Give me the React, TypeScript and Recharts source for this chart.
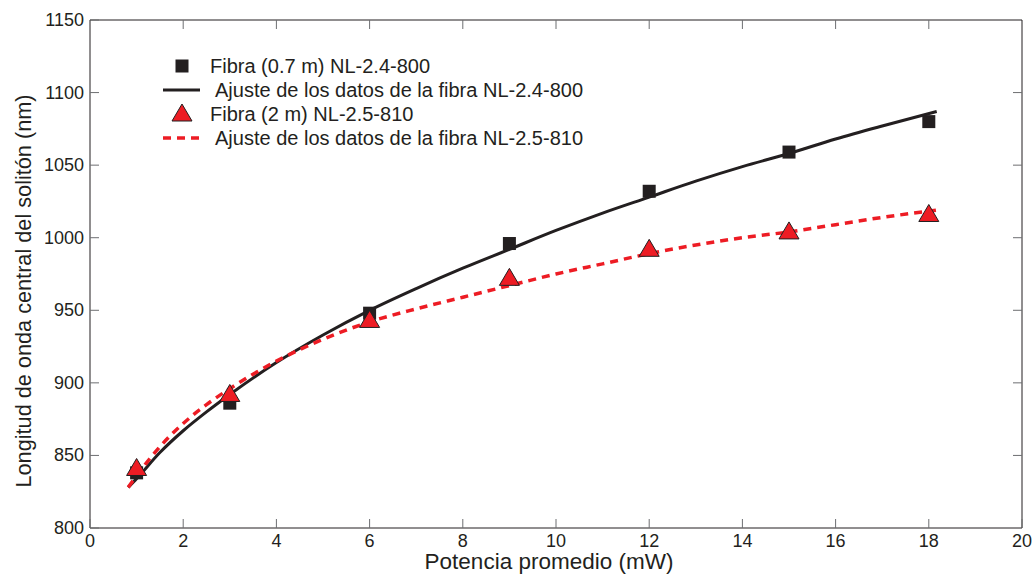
import React from "react";
import { ComposedChart, Line, Scatter, XAxis, YAxis } from "recharts";

// measured points
const fibra24 = [
	{ p: 1, nm: 838 },
	{ p: 3, nm: 886 },
	{ p: 6, nm: 948 },
	{ p: 9, nm: 996 },
	{ p: 12, nm: 1032 },
	{ p: 15, nm: 1059 },
	{ p: 18, nm: 1080 },
];

const fibra25 = [
	{ p: 1, nm: 841 },
	{ p: 3, nm: 892 },
	{ p: 6, nm: 943 },
	{ p: 9, nm: 972 },
	{ p: 12, nm: 992 },
	{ p: 15, nm: 1004 },
	{ p: 18, nm: 1016 },
];

// fitted curves, sampled
const ajuste24 = [
	{ p: 0.82, nm: 828 },
	{ p: 1, nm: 834 },
	{ p: 1.5, nm: 852 },
	{ p: 2, nm: 867 },
	{ p: 2.5, nm: 880 },
	{ p: 3, nm: 892 },
	{ p: 4, nm: 914 },
	{ p: 5, nm: 933 },
	{ p: 6, nm: 950 },
	{ p: 7, nm: 965 },
	{ p: 8, nm: 979 },
	{ p: 9, nm: 992 },
	{ p: 10, nm: 1005 },
	{ p: 11, nm: 1017 },
	{ p: 12, nm: 1028 },
	{ p: 13, nm: 1039 },
	{ p: 14, nm: 1049 },
	{ p: 15, nm: 1058 },
	{ p: 16, nm: 1068 },
	{ p: 17, nm: 1077 },
	{ p: 18.17, nm: 1087 },
];

const ajuste25 = [
	{ p: 0.82, nm: 828 },
	{ p: 1, nm: 836 },
	{ p: 1.5, nm: 856 },
	{ p: 2, nm: 872 },
	{ p: 2.5, nm: 885 },
	{ p: 3, nm: 896 },
	{ p: 4, nm: 915 },
	{ p: 5, nm: 930 },
	{ p: 6, nm: 942 },
	{ p: 7, nm: 951 },
	{ p: 8, nm: 959 },
	{ p: 9, nm: 967 },
	{ p: 10, nm: 975 },
	{ p: 11, nm: 982 },
	{ p: 12, nm: 989 },
	{ p: 13, nm: 995 },
	{ p: 14, nm: 1000 },
	{ p: 15, nm: 1004 },
	{ p: 16, nm: 1009 },
	{ p: 17, nm: 1014 },
	{ p: 18.17, nm: 1019 },
];

const xTicks = [0, 2, 4, 6, 8, 10, 12, 14, 16, 18, 20];
const yTicks = [800, 850, 900, 950, 1000, 1050, 1100, 1150];

const legendLabels = [
	"Fibra (0.7 m) NL-2.4-800",
	"Ajuste de los datos de la fibra NL-2.4-800",
	"Fibra (2 m) NL-2.5-810",
	"Ajuste de los datos de la fibra NL-2.5-810",
];

const FONT = "'Liberation Sans', Arial, Helvetica, sans-serif";
const INK = "#231f20";
const RED = "#ed1c24";
const TICK_GREY = "#6d6e71";
const TICK_LEN = 9;

const SquareMark = ({ cx, cy }: any) => (
	<rect x={cx - 6.5} y={cy - 6.5} width={13} height={13} fill={INK} />
);

const TriangleMark = ({ cx, cy }: any) => (
	<polygon
		points={`${cx},${cy - 10} ${cx - 10},${cy + 7} ${cx + 10},${cy + 7}`}
		fill={RED}
		stroke={INK}
		strokeWidth={1}
	/>
);

// inward tick marks on every side of the box
const BottomTick = ({ x, y, payload }: any) => (
	<g>
		<line x1={x} y1={y} x2={x} y2={y - TICK_LEN} stroke={TICK_GREY} />
		<text
			x={x}
			y={y + 19}
			textAnchor="middle"
			fontSize={18}
			fontFamily={FONT}
			fill={INK}
		>
			{payload.value}
		</text>
	</g>
);

const TopTick = ({ x, y }: any) => (
	<line x1={x} y1={y} x2={x} y2={y + TICK_LEN} stroke={TICK_GREY} />
);

const LeftTick = ({ x, y, payload }: any) => (
	<g>
		<line x1={x} y1={y} x2={x + TICK_LEN} y2={y} stroke={TICK_GREY} />
		<text
			x={x - 6}
			y={y + 6}
			textAnchor="end"
			fontSize={18}
			fontFamily={FONT}
			fill={INK}
		>
			{payload.value}
		</text>
	</g>
);

const RightTick = ({ x, y }: any) => (
	<line x1={x} y1={y} x2={x - TICK_LEN} y2={y} stroke={TICK_GREY} />
);

const LegendBox = () => {
	const rowY = [66, 90, 114, 138];
	return (
		<g>
			<rect x={175.5} y={rowY[0] - 6.5} width={13} height={13} fill={INK} />
			<line x1={163} y1={rowY[1]} x2={200} y2={rowY[1]} stroke={INK} strokeWidth={3} />
			<polygon
				points={`182,${rowY[2] - 10} 172,${rowY[2] + 7} 192,${rowY[2] + 7}`}
				fill={RED}
				stroke={INK}
			/>
			<line
				x1={163}
				y1={rowY[3]}
				x2={200}
				y2={rowY[3]}
				stroke={RED}
				strokeWidth={3.5}
				strokeDasharray="8 6"
			/>
			{legendLabels.map((t, i) => (
				<text
					key={t}
					x={i % 2 === 0 ? 210 : 215}
					y={rowY[i] + 7}
					fontSize={20}
					fontFamily={FONT}
					fill={INK}
				>
					{t}
				</text>
			))}
		</g>
	);
};

const App: React.FC = () => {
	return (
		<div
			style={{
				position: "absolute",
				left: 0,
				top: 0,
				width: 1036,
				height: 577,
				background: "#fff",
			}}
		>
			<ComposedChart
				width={1036}
				height={577}
				margin={{ top: 0, right: 0, left: 0, bottom: 0 }}
			>
				<XAxis
					xAxisId="x"
					dataKey="p"
					type="number"
					domain={[0, 20]}
					ticks={xTicks}
					allowDataOverflow
					height={49}
					tickSize={0}
					tickMargin={0}
					tickLine={false}
					stroke={INK}
					tick={<BottomTick />}
					interval={0}
				/>
				<XAxis
					xAxisId="xt"
					orientation="top"
					dataKey="p"
					type="number"
					domain={[0, 20]}
					ticks={xTicks.slice(1, -1)}
					allowDataOverflow
					height={20}
					tickSize={0}
					tickMargin={0}
					tickLine={false}
					stroke={INK}
					tick={<TopTick />}
					interval={0}
				/>
				<YAxis
					yAxisId="y"
					dataKey="nm"
					type="number"
					domain={[800, 1150]}
					ticks={yTicks}
					allowDataOverflow
					width={90}
					tickSize={0}
					tickMargin={0}
					tickLine={false}
					stroke={INK}
					tick={<LeftTick />}
					interval={0}
				/>
				<YAxis
					yAxisId="yr"
					orientation="right"
					dataKey="nm"
					type="number"
					domain={[800, 1150]}
					ticks={yTicks.slice(1, -1)}
					allowDataOverflow
					width={14}
					tickSize={0}
					tickMargin={0}
					tickLine={false}
					stroke={INK}
					tick={<RightTick />}
					interval={0}
				/>
				<Line
					xAxisId="x"
					yAxisId="y"
					data={ajuste24}
					dataKey="nm"
					type="monotone"
					stroke={INK}
					strokeWidth={3}
					dot={false}
					isAnimationActive={false}
				/>
				<Line
					xAxisId="x"
					yAxisId="y"
					data={ajuste25}
					dataKey="nm"
					type="monotone"
					stroke={RED}
					strokeWidth={3.5}
					strokeDasharray="8 6"
					dot={false}
					isAnimationActive={false}
				/>
				<Scatter
					xAxisId="x"
					yAxisId="y"
					data={fibra24}
					dataKey="nm"
					shape={<SquareMark />}
					isAnimationActive={false}
				/>
				<Scatter
					xAxisId="x"
					yAxisId="y"
					data={fibra25}
					dataKey="nm"
					shape={<TriangleMark />}
					isAnimationActive={false}
				/>
			</ComposedChart>
			<svg
				width={1036}
				height={577}
				style={{ position: "absolute", left: 0, top: 0, pointerEvents: "none" }}
			>
				<LegendBox />
				<text
					x={549}
					y={569}
					textAnchor="middle"
					fontSize={22.5}
					fontFamily={FONT}
					fill={INK}
				>
					Potencia promedio (mW)
				</text>
				<text
					transform="translate(31,291) rotate(-90)"
					textAnchor="middle"
					fontSize={21.7}
					fontFamily={FONT}
					fill={INK}
				>
					Longitud de onda central del solitón (nm)
				</text>
			</svg>
		</div>
	);
};

export default App;
